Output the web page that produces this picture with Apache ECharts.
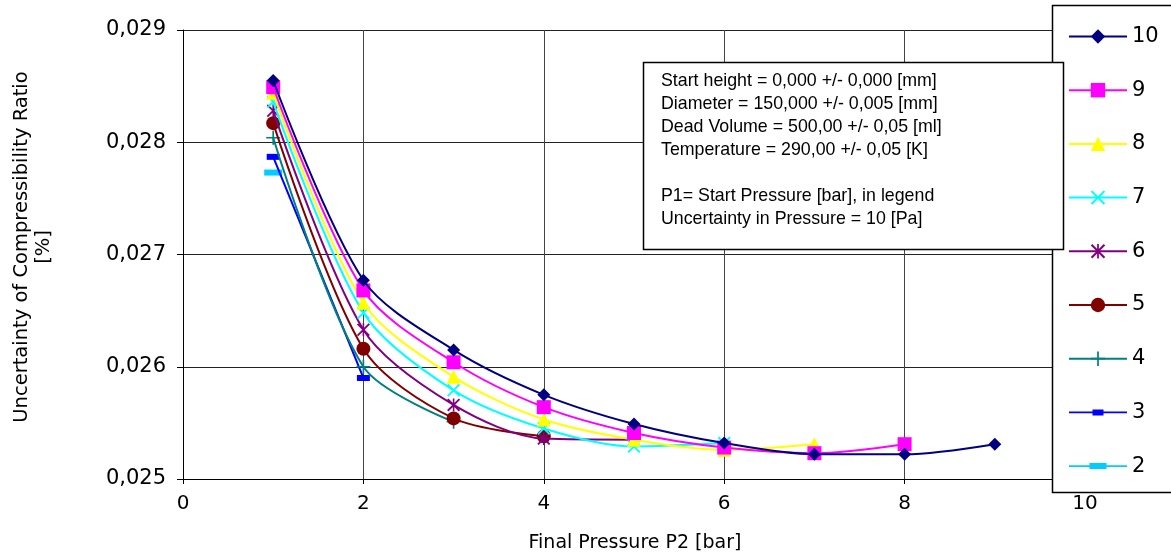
<!DOCTYPE html>
<html>
<head>
<meta charset="utf-8">
<script src="https://cdn.jsdelivr.net/npm/echarts@6/dist/echarts.min.js"></script>
<style>
html,body{margin:0;padding:0;background:#fff;}
#chart{width:1171px;height:557px;}
</style>
</head>
<body>
<div id="chart"></div>
<script>
// Final pressure P2 [bar]
const xTicks = [0, 2, 4, 6, 8, 10];
const yTicks = [0.025, 0.026, 0.027, 0.028, 0.029];
// Series names = start pressure P1 [bar]
const seriesNames = ['10', '9', '8', '7', '6', '5', '4', '3', '2'];
// P2 values 1..9
const p2 = [1, 2, 3, 4, 5, 6, 7, 8, 9];
const s10 = [0.02855, 0.02677, 0.02615, 0.02575, 0.02549, 0.02532, 0.02522, 0.02522, 0.02531];
const s9  = [0.02849, 0.02668, 0.02604, 0.02564, 0.02541, 0.02528, 0.02523, 0.02531];
const s8  = [0.02844, 0.02657, 0.02591, 0.02553, 0.02535, 0.02526, 0.02531];
const s7  = [0.02836, 0.02648, 0.02579, 0.02545, 0.02529, 0.02532];
const s6  = [0.02828, 0.02633, 0.02566, 0.02536, 0.02535];
const s5  = [0.02817, 0.02616, 0.02554, 0.02538];
const s4  = [0.02804, 0.02600, 0.02551];
const s3  = [0.02787, 0.02590];
const s2  = [0.02773];
const seriesValues = [s10, s9, s8, s7, s6, s5, s4, s3, s2];

const colors = ['#000080', '#FF00FF', '#FFFF00', '#00FFFF', '#800080', '#800000', '#008080', '#0000FF', '#00CCFF'];
const X_PATH = 'path://M0 1L1 0L10 9L9 10Z M9 0L10 1L1 10L0 9Z';
const AST_PATH = 'path://M0 1L1 0L10 9L9 10Z M9 0L10 1L1 10L0 9Z M4.4 0H5.6V10H4.4Z';
const PLUS_PATH = 'path://M4.4 0H5.6V10H4.4Z M0 4.4H10V5.6H0Z';
const symbols = ['diamond', 'rect', 'triangle', X_PATH, AST_PATH, 'circle', PLUS_PATH, 'rect', 'rect'];
const symbolSizes = [13, 14, 14, 13, 13, 14, 14, [13, 6], [18, 6]];

// legend icons (line + dash marker) for the two dash-marker series
const CORNERS = 'M0 0L0.05 0L0 0.05Z M58 18L57.95 18L58 17.95Z ';
const legendIcons = {
  '3': 'path://' + CORNERS + 'M0 8.2H58V9.8H0Z M23.5 6H34.5V12H23.5Z',
  '2': 'path://' + CORNERS + 'M0 8.2H58V9.8H0Z M20.5 6H37.5V12H20.5Z'
};

const fmt = v => v.toFixed(3).replace('.', ',');

const series = seriesNames.map((name, i) => ({
  name: name,
  type: 'line',
  smooth: 0.3,
  data: seriesValues[i].map((v, k) => [p2[k], v]),
  symbol: symbols[i],
  symbolSize: symbolSizes[i],
  symbolKeepAspect: false,
  showAllSymbol: true,
  color: colors[i],
  lineStyle: { color: colors[i], width: 2 },
  itemStyle: { color: colors[i] },
  z: 20 - i
}));

const legendData = seriesNames.map(n => legendIcons[n] ? { name: n, icon: legendIcons[n] } : { name: n });

const chart = echarts.init(document.getElementById('chart'), null, { renderer: 'canvas' });
chart.setOption({
  animation: false,
  backgroundColor: '#fff',
  textStyle: { fontFamily: 'DejaVu Sans' },
  grid: { left: 183, right: 86, top: 30, bottom: 78, containLabel: false },
  xAxis: {
    type: 'value',
    min: xTicks[0], max: xTicks[xTicks.length - 1], interval: 2,
    axisLine: { show: true, onZero: false, lineStyle: { color: '#000', width: 1 } },
    axisTick: { show: true, inside: false, length: 5, lineStyle: { color: '#000' } },
    splitLine: { show: true, lineStyle: { color: '#444', width: 1 } },
    axisLabel: { color: '#000', fontSize: 20, margin: 15, fontFamily: 'DejaVu Sans' }
  },
  yAxis: {
    type: 'value',
    min: yTicks[0], max: yTicks[yTicks.length - 1], interval: 0.001,
    axisLine: { show: true, onZero: false, lineStyle: { color: '#000', width: 1 } },
    axisTick: { show: true, inside: false, length: 6, lineStyle: { color: '#000' } },
    splitLine: { show: true, lineStyle: { color: '#222', width: 1 } },
    axisLabel: { color: '#000', fontSize: 21, margin: 17, fontFamily: 'DejaVu Sans', formatter: fmt }
  },
  legend: {
    orient: 'vertical',
    left: 1063,
    top: 21,
    itemWidth: 58,
    itemHeight: 18,
    itemGap: 32.7,
    textStyle: { fontSize: 21, color: '#000', fontFamily: 'DejaVu Sans' },
    data: legendData,
    z: 30
  },
  graphic: [
    { type: 'rect', z: 25, shape: { x: 1052.5, y: 5.5, width: 140, height: 487 },
      style: { fill: '#fff', stroke: '#000', lineWidth: 1.5 } },
    { type: 'rect', z: 25, shape: { x: 643.5, y: 62.5, width: 420, height: 187 },
      style: { fill: '#fff', stroke: '#000', lineWidth: 1.5 } },
    { type: 'text', z: 26, left: 661, top: 70,
      style: { text: 'Start height = 0,000 +/- 0,000 [mm]\nDiameter = 150,000 +/- 0,005 [mm]\nDead Volume = 500,00 +/- 0,05 [ml]\nTemperature = 290,00 +/- 0,05 [K]\n\nP1= Start Pressure [bar], in legend\nUncertainty in Pressure = 10 [Pa]',
        font: '17.8px "Liberation Sans", Arial, sans-serif', fill: '#000', lineHeight: 23 } },
    { type: 'text', z: 26, x: 22, y: 247, rotation: Math.PI / 2,
      style: { text: 'Uncertainty of Compressibility Ratio', font: '19.5px "DejaVu Sans"', fill: '#000',
        textAlign: 'center', textVerticalAlign: 'middle' } },
    { type: 'text', z: 26, x: 44, y: 247, rotation: Math.PI / 2,
      style: { text: '[%]', font: '19.5px "DejaVu Sans"', fill: '#000',
        textAlign: 'center', textVerticalAlign: 'middle' } },
    { type: 'text', z: 26, x: 635, y: 543,
      style: { text: 'Final Pressure P2 [bar]', font: '19px "DejaVu Sans"', fill: '#000',
        textAlign: 'center', textVerticalAlign: 'middle' } }
  ],
  series: series
});
</script>
</body>
</html>
